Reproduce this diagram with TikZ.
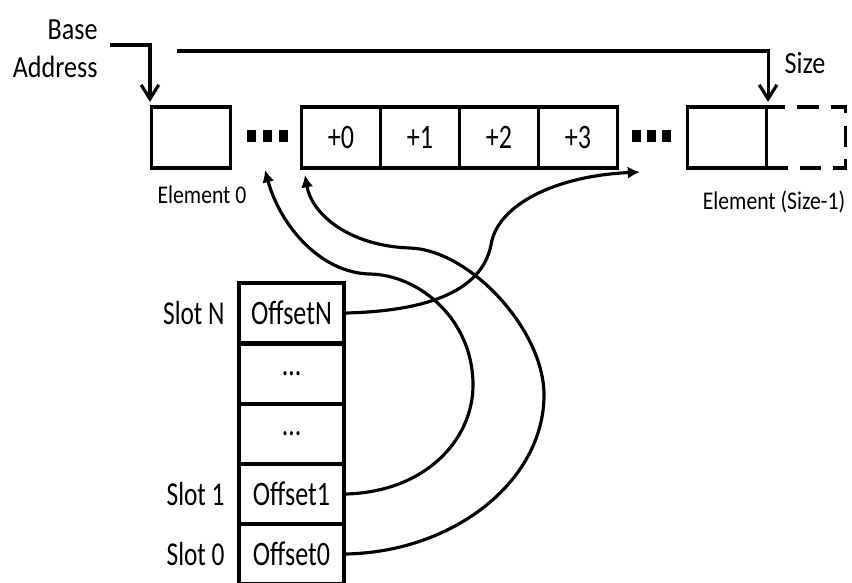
\documentclass[tikz,border=0pt]{standalone}
\usepackage{fontspec}
\setmainfont{Carlito}[FakeStretch=0.85]
\newfontfamily\narrowfont{Carlito}[FakeStretch=0.76]
\usepackage{tikz}
\usetikzlibrary{arrows.meta, positioning}

\begin{document}
\begin{tikzpicture}[x=0.02cm, y=-0.02cm,
  cell/.style={rectangle, draw, line width=1.8pt,
               minimum width=1.58cm, minimum height=1.22cm,
               inner sep=0pt, font=\narrowfont\fontsize{19.5}{22}\selectfont},
  slotbox/.style={rectangle, draw, line width=1.8pt,
               minimum width=2.1cm, minimum height=1.2cm,
               inner sep=0pt, font=\narrowfont\fontsize{19.5}{22}\selectfont},
  lbl/.style={font=\fontsize{17.5}{21.5}\selectfont, inner sep=0pt},
  slbl/.style={font=\narrowfont\fontsize{19}{22}\selectfont, inner sep=0pt},
  elbl/.style={font=\fontsize{14.5}{17}\selectfont, inner sep=0pt},
  ptr/.style={-{Straight Barb[length=8pt, width=10pt]}, line width=1.8pt},
  link/.style={-{Latex[length=7pt, width=7pt]}, line width=1.8pt},
]
  \useasboundingbox (0,0) rectangle (852,582);

  % Array elements
  \node[cell] (elem0) at (191,137.5) {};
  \foreach \x [count=\k from 0] in {341,420,499,578} {
    \node[cell] (c\k) at (\x,137.5) {+\k};
  }
  \node[cell, dash pattern=on 12pt off 7pt] (ghost) at (806,137.5) {};
  \node[cell] (last) at (727,137.5) {};

  % Gaps
  \foreach \x in {247,263,279,632,647,662} {
    \fill (\x,130) rectangle ++(9,12);
  }

  \node[elbl] (e0lbl) at (202,195) {Element 0};
  \node[elbl] (elastlbl) at (774,202) {Element (Size-1)};

  % Base address and size
  \node[lbl, align=right, anchor=east] (base) at (98,49) {Base\\Address};
  \node[lbl] (size) at (805,63) {Size};
  \coordinate (bstart) at (110,45);
  \coordinate (sstart) at (177,51);
  \draw[ptr] (bstart) -| ([yshift=2pt]elem0.north west);
  \draw[ptr] (sstart) -| ([yshift=2pt]last.north east);

  % Offset table
  \foreach \y/\t/\n in {313/OffsetN/sN, 374/\ldots/dB, 434/\ldots/dA,
                        494/Offset1/s1, 554/Offset0/s0} {
    \node[slotbox] (\n) at (291.5,\y) {\t};
  }
  \node[slbl, left=0.25cm of sN] (lN) {Slot N};
  \node[slbl, left=0.25cm of s1] (l1) {Slot 1};
  \node[slbl, left=0.25cm of s0] (l0) {Slot 0};

  % Offsets into the array
  \coordinate (tN) at (640,172);
  \coordinate (t1) at (265,170);
  \coordinate (t0) at (305,175);
  \draw[link] (sN.east) .. controls (430,311) and (482,290) .. (491,245)
                        .. controls (497,205) and (555,176) .. (tN);
  \draw[link] (s1.east) .. controls (425,492) and (473,440) .. (473,385)
                        .. controls (473,320) and (420,275) .. (370,274)
                        .. controls (320,273) and (280,225) .. (t1);
  \draw[link] (s0.east) .. controls (455,552) and (544,480) .. (544,395)
                        .. controls (544,330) and (470,250) .. (410,248)
                        .. controls (350,246) and (312,215) .. (t0);
\end{tikzpicture}
\end{document}
